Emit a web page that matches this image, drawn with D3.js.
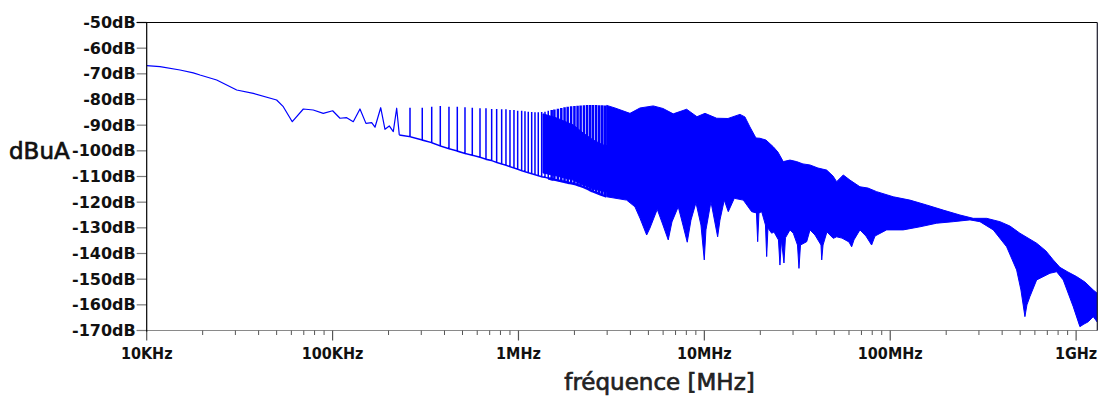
<!DOCTYPE html>
<html>
<head>
<meta charset="utf-8">
<script src="https://cdn.jsdelivr.net/npm/d3@7"></script>
<style>
  html, body { margin: 0; padding: 0; background: #fff; }
  svg { display: block; }
</style>
</head>
<body>
<svg id="chart" width="1101" height="398"></svg>
<script>
// ---- Axis ticks ----
const xTickValues = [1e4, 1e5, 1e6, 1e7, 1e8, 1e9];
const xTickLabels = ["10KHz", "100KHz", "1MHz", "10MHz", "100MHz", "1GHz"];
const yTickValues = [-50, -60, -70, -80, -90, -100, -110, -120, -130, -140, -150, -160, -170];
const yTickLabels = ["-50dB", "-60dB", "-70dB", "-80dB", "-90dB", "-100dB", "-110dB",
                     "-120dB", "-130dB", "-140dB", "-150dB", "-160dB", "-170dB"];

// ---- Low-frequency part of the spectrum (Hz, dBuA) ----
const lowFreq = [1.0e4, 1.179e4, 1.511e4, 1.781e4, 1.935e4, 2.38e4, 2.92e4, 3.05e4, 3.745e4,
  5.0e4, 5.43e4, 6.07e4, 6.96e4, 7.87e4, 8.91e4, 1.001e5, 1.096e5, 1.191e5, 1.292e5,
  1.404e5, 1.512e5, 1.623e5, 1.691e5, 1.815e5, 1.914e5, 2.018e5, 2.121e5, 2.212e5, 2.285e5];
const lowDb = [-66.8, -67.2, -68.5, -69.6, -70.45, -72.4, -75.6, -76.3, -77.6,
  -80.2, -82.8, -88.65, -83.7, -84.1, -85.4, -84.4, -87.3, -87.1, -88.65,
  -83.7, -89.3, -89.0, -90.8, -83.2, -91.6, -90.3, -92.5, -83.4, -93.8];

// ---- Harmonic spikes: frequency, peak level, trough level ----
const spikeFreq = [2.609e5, 3.037e5, 3.414e5, 3.797e5, 4.228e5, 4.687e5, 5.156e5, 5.644e5,
  6.209e5, 6.687e5, 7.175e5, 7.633e5, 8.121e5, 8.565e5, 9.002e5, 9.458e5, 9.902e5,
  1.0404e6, 1.084e6, 1.129e6, 1.178e6, 1.227e6, 1.278e6, 1.333e6, 1.389e6, 1.446e6, 1.509e6,
  1.56e6, 1.63e6, 1.70e6, 1.77e6, 1.84e6, 1.92e6, 2.00e6, 2.08e6, 2.16e6, 2.25e6, 2.34e6,
  2.43e6, 2.52e6, 2.62e6, 2.72e6, 2.82e6, 2.92e6];
const spikeTop = [-83.2, -83.2, -82.8, -82.5, -82.8, -82.8, -83.0, -83.2,
  -83.4, -83.4, -83.7, -83.7, -83.8, -83.8, -84.1, -84.1, -84.4,
  -84.4, -84.6, -84.8, -84.9, -85.0, -85.0, -84.9, -84.8, -84.4, -84.1,
  -83.9, -83.6, -83.3, -83.0, -82.8, -82.6, -82.5, -82.4, -82.3, -82.2, -82.1,
  -82.1, -82.1, -82.1, -82.2, -82.2, -82.3];
const spikeBottom = [-94.5, -95.8, -96.8, -98.1, -99.2, -100.1, -101.0, -101.7,
  -102.5, -103.3, -103.8, -104.5, -105.1, -105.6, -106.2, -106.7, -107.2,
  -107.7, -108.1, -108.5, -108.9, -109.3, -109.7, -110.1, -110.3, -110.7, -111.1,
  -111.2, -111.5, -111.8, -112.1, -112.4, -112.6, -112.9, -113.3, -113.7, -114.2, -114.7,
  -115.3, -115.8, -116.3, -116.8, -117.2, -117.6];

// ---- Dense band where harmonics merge (Hz, upper and lower level) ----
const coreFreq = [1.355e6, 1.605e6, 1.971e6, 2.232e6, 2.526e6, 2.849e6, 3.106e6];
const coreTop = [-85.6, -87.2, -89.9, -93.1, -95.8, -97.7, -98.1];
const coreBottom = [-108.6, -109.8, -111.4, -113.3, -114.9, -115.7, -116.2];

// ---- Envelope of the high-frequency spectrum ----
const upperFreq = [2.981e6, 3.304e6, 3.981e6, 4.506e6, 5.311e6, 5.988e6, 6.802e6, 8.03e6,
  9.125e6, 1.008e7, 1.165e7, 1.340e7, 1.554e7, 1.653e7, 1.759e7, 1.895e7, 1.991e7, 2.145e7,
  2.348e7, 2.489e7, 2.657e7, 2.888e7, 3.137e7, 3.392e7, 3.698e7, 4.084e7, 4.55e7, 4.92e7,
  5.15e7, 5.59e7, 6.07e7, 6.87e7, 7.59e7, 8.45e7, 1.038e8, 1.276e8, 1.570e8, 1.928e8,
  2.371e8, 2.796e8, 3.300e8, 3.892e8, 4.405e8, 4.985e8, 6.133e8, 6.880e8, 7.533e8, 8.182e8,
  9.034e8, 1.006e9, 1.115e9, 1.236e9, 1.299e9];
const upperDb = [-82.3, -83.3, -85.4, -83.3, -82.5, -83.5, -85.6, -83.8,
  -86.7, -85.4, -87.3, -87.4, -85.8, -86.8, -90.7, -95.0, -95.1, -95.8,
  -98.4, -100.5, -104.2, -103.6, -104.2, -105.1, -105.5, -106.7, -107.5, -109.8,
  -112.0, -109.4, -111.4, -114.0, -114.5, -115.9, -117.9, -119.2, -121.1, -123.1,
  -125.0, -126.3, -126.3, -127.6, -129.3, -132.1, -136.0, -139.0, -142.5, -145.4,
  -147.2, -149.0, -151.1, -154.2, -155.5];
const lowerFreq = [2.981e6, 3.819e6, 4.232e6, 4.503e6, 4.894e6, 5.097e6, 5.580e6, 5.988e6,
  6.393e6, 6.694e6, 7.236e6, 7.670e6, 8.090e6, 8.472e6, 9.012e6, 9.589e6, 9.990e6, 1.020e7,
  1.085e7, 1.179e7, 1.213e7, 1.280e7, 1.345e7, 1.449e7, 1.620e7, 1.797e7, 1.907e7, 1.936e7,
  1.967e7, 2.034e7, 2.132e7, 2.164e7, 2.199e7, 2.302e7, 2.369e7, 2.504e7, 2.551e7, 2.599e7,
  2.681e7, 2.731e7, 2.888e7, 3.009e7, 3.170e7, 3.229e7, 3.290e7, 3.552e7, 3.701e7, 3.938e7,
  4.242e7, 4.28e7, 4.35e7, 4.565e7, 4.937e7, 5.148e7, 5.499e7, 5.997e7, 6.20e7, 6.38e7,
  6.87e7, 7.40e7, 7.94e7, 8.28e7, 9.56e7, 1.175e8, 1.445e8, 1.777e8, 2.183e8, 2.684e8,
  3.038e8, 3.583e8, 4.229e8, 4.786e8, 5.048e8, 5.304e8, 5.437e8, 5.642e8, 6.133e8, 7.230e8,
  7.856e8, 8.524e8, 9.647e8, 1.048e9, 1.102e9, 1.162e9, 1.236e9, 1.299e9];
const lowerDb = [-117.9, -119.2, -121.8, -126.2, -132.8, -130.1, -122.8, -128.9,
  -134.7, -127.7, -121.8, -128.9, -135.6, -127.0, -120.2, -128.9, -142.5, -130.8,
  -119.8, -133.5, -127.0, -119.2, -123.7, -118.5, -119.2, -123.7, -124.2, -135.4,
  -124.2, -123.7, -128.9, -141.2, -130.1, -132.1, -131.6, -134.7, -144.5, -134.7,
  -143.7, -133.9, -130.8, -132.1, -136.7, -145.8, -136.7, -135.4, -130.8, -132.8,
  -136.7, -142.5, -136.7, -131.6, -134.1, -133.5, -134.0, -135.5, -137.4, -134.7,
  -130.8, -133.2, -136.7, -133.2, -130.8, -130.8, -129.6, -128.2, -127.6, -126.9,
  -127.6, -130.8, -137.4, -146.4, -154.2, -164.6, -160.0, -156.8, -150.3, -147.7,
  -147.1, -150.3, -160.7, -168.5, -167.5, -166.6, -164.6, -166.7];

// ---- Layout ----
const W = 1101, H = 398;
const plotLeft = 146.7, plotRight = 1097.3, plotTop = 22.5, plotBottom = 330.5;
const traceColor = "#0000ff";
const denseFrom = 1.5e6;   // harmonics above this are drawn wider (they nearly merge)

const svg = d3.select("#chart");
svg.append("rect").attr("width", W).attr("height", H).attr("fill", "#fff");

const x = d3.scaleLog().domain([1e4, 1.3e9]).range([plotLeft, plotRight]);
const y = d3.scaleLinear().domain([-170, -50]).range([plotBottom, plotTop]);

svg.append("defs").append("clipPath").attr("id", "plotClip")
  .append("rect").attr("x", plotLeft).attr("y", plotTop)
  .attr("width", plotRight - plotLeft).attr("height", plotBottom - plotTop);

const plot = svg.append("g").attr("clip-path", "url(#plotClip)");
const line = d3.line().x(d => x(d[0])).y(d => y(d[1]));

// Dense band between merged harmonics
const core = d3.range(coreFreq.length).map(i => [coreFreq[i], coreTop[i], coreBottom[i]]);
plot.append("path")
  .attr("d", d3.area().x(d => x(d[0])).y0(d => y(d[2])).y1(d => y(d[1]))(core))
  .attr("fill", traceColor).attr("stroke", traceColor).attr("stroke-width", 1);

// High-frequency envelope drawn as a filled band
const upperPts = upperFreq.map((f, i) => [f, upperDb[i]]);
const lowerPts = lowerFreq.map((f, i) => [f, lowerDb[i]]).reverse();
plot.append("path")
  .attr("d", line(upperPts.concat(lowerPts)) + "Z")
  .attr("fill", traceColor).attr("stroke", traceColor).attr("stroke-width", 1)
  .attr("stroke-linejoin", "round");

// Low-frequency curve
const lowPts = lowFreq.map((f, i) => [f, lowDb[i]]);
plot.append("path")
  .attr("d", line(lowPts))
  .attr("fill", "none").attr("stroke", traceColor).attr("stroke-width", 1.2)
  .attr("stroke-linejoin", "round");

// Harmonic spikes, continuing the curve: trough -> peak -> trough
const sparsePts = [lowPts[lowPts.length - 1]];
const densePts = [];
spikeFreq.forEach((f, i) => {
  const target = f < denseFrom ? sparsePts : densePts;
  target.push([f, spikeBottom[i]], [f, spikeTop[i]], [f, spikeBottom[i]]);
});
densePts.unshift(sparsePts[sparsePts.length - 1]);
plot.append("path")
  .attr("d", line(sparsePts))
  .attr("fill", "none").attr("stroke", traceColor).attr("stroke-width", 1.5)
  .attr("stroke-linejoin", "miter");
plot.append("path")
  .attr("d", line(densePts))
  .attr("fill", "none").attr("stroke", traceColor).attr("stroke-width", 2.5)
  .attr("stroke-linejoin", "miter");

// ---- Axes ----
const labelFont = "'DejaVu Sans', sans-serif";
const xLabelFont = "'DejaVu Sans Condensed', 'DejaVu Sans', sans-serif";
const axisG = svg.append("g");

// Bottom (grey) axis line with decade and sub-decade ticks
axisG.append("line").attr("x1", plotLeft - 10).attr("x2", plotRight).attr("y1", plotBottom).attr("y2", plotBottom)
  .attr("stroke", "#8a8a8a").attr("stroke-width", 1.2);
const minorTicks = [];
for (let d = 1e4; d < 1.3e9; d *= 10) {
  for (let k = 2; k <= 9; k++) if (d * k <= 1.3e9) minorTicks.push(d * k);
}
axisG.selectAll(".xminor").data(minorTicks).join("line")
  .attr("x1", d => x(d)).attr("x2", d => x(d))
  .attr("y1", plotBottom).attr("y2", plotBottom + 4.5)
  .attr("stroke", "#555").attr("stroke-width", 1);
axisG.selectAll(".xmajor").data(xTickValues).join("line")
  .attr("x1", d => x(d)).attr("x2", d => x(d))
  .attr("y1", plotBottom).attr("y2", plotBottom + 10)
  .attr("stroke", "#555").attr("stroke-width", 1.2);
axisG.selectAll(".xlab").data(xTickValues).join("text")
  .attr("x", d => x(d)).attr("y", plotBottom + 28.5)
  .attr("text-anchor", "middle")
  .attr("font-family", xLabelFont).attr("font-stretch", "condensed")
  .attr("font-weight", "bold").attr("font-size", 16)
  .attr("fill", "#111")
  .text((d, i) => xTickLabels[i]);

// Left axis ticks and labels
axisG.selectAll(".ytick").data(yTickValues).join("line")
  .attr("x1", plotLeft - 10).attr("x2", plotLeft)
  .attr("y1", d => y(d)).attr("y2", d => y(d))
  .attr("stroke", (d, i) => i === 0 ? "#000" : "#7a7a7a").attr("stroke-width", 1.2);
axisG.selectAll(".ylab").data(yTickValues).join("text")
  .attr("x", plotLeft - 11).attr("y", d => y(d) + 5.5)
  .attr("text-anchor", "end")
  .attr("font-family", labelFont).attr("font-weight", "bold").attr("font-size", 16)
  .attr("fill", "#111")
  .text((d, i) => yTickLabels[i]);

// Frame: top, left and right borders
axisG.append("line").attr("x1", plotLeft - 10).attr("x2", plotRight).attr("y1", plotTop).attr("y2", plotTop)
  .attr("stroke", "#000").attr("stroke-width", 1.2);
axisG.append("line").attr("x1", plotLeft).attr("x2", plotLeft).attr("y1", plotTop).attr("y2", plotBottom + 1)
  .attr("stroke", "#000").attr("stroke-width", 1.2);
axisG.append("line").attr("x1", plotRight).attr("x2", plotRight).attr("y1", plotTop).attr("y2", plotBottom)
  .attr("stroke", "#1a1a2a").attr("stroke-width", 1.2);

// Axis titles (regular face, slightly thickened with a thin outline)
svg.append("text").attr("x", 9).attr("y", y(-100) + 8)
  .attr("font-family", labelFont).attr("font-size", 23)
  .attr("fill", "#111").attr("stroke", "#111").attr("stroke-width", 0.7)
  .text("dBuA");
svg.append("text").attr("x", 659.5).attr("y", 390)
  .attr("text-anchor", "middle")
  .attr("font-family", labelFont).attr("font-size", 23)
  .attr("fill", "#222").attr("stroke", "#222").attr("stroke-width", 0.7)
  .text("fréquence [MHz]");
</script>
</body>
</html>
